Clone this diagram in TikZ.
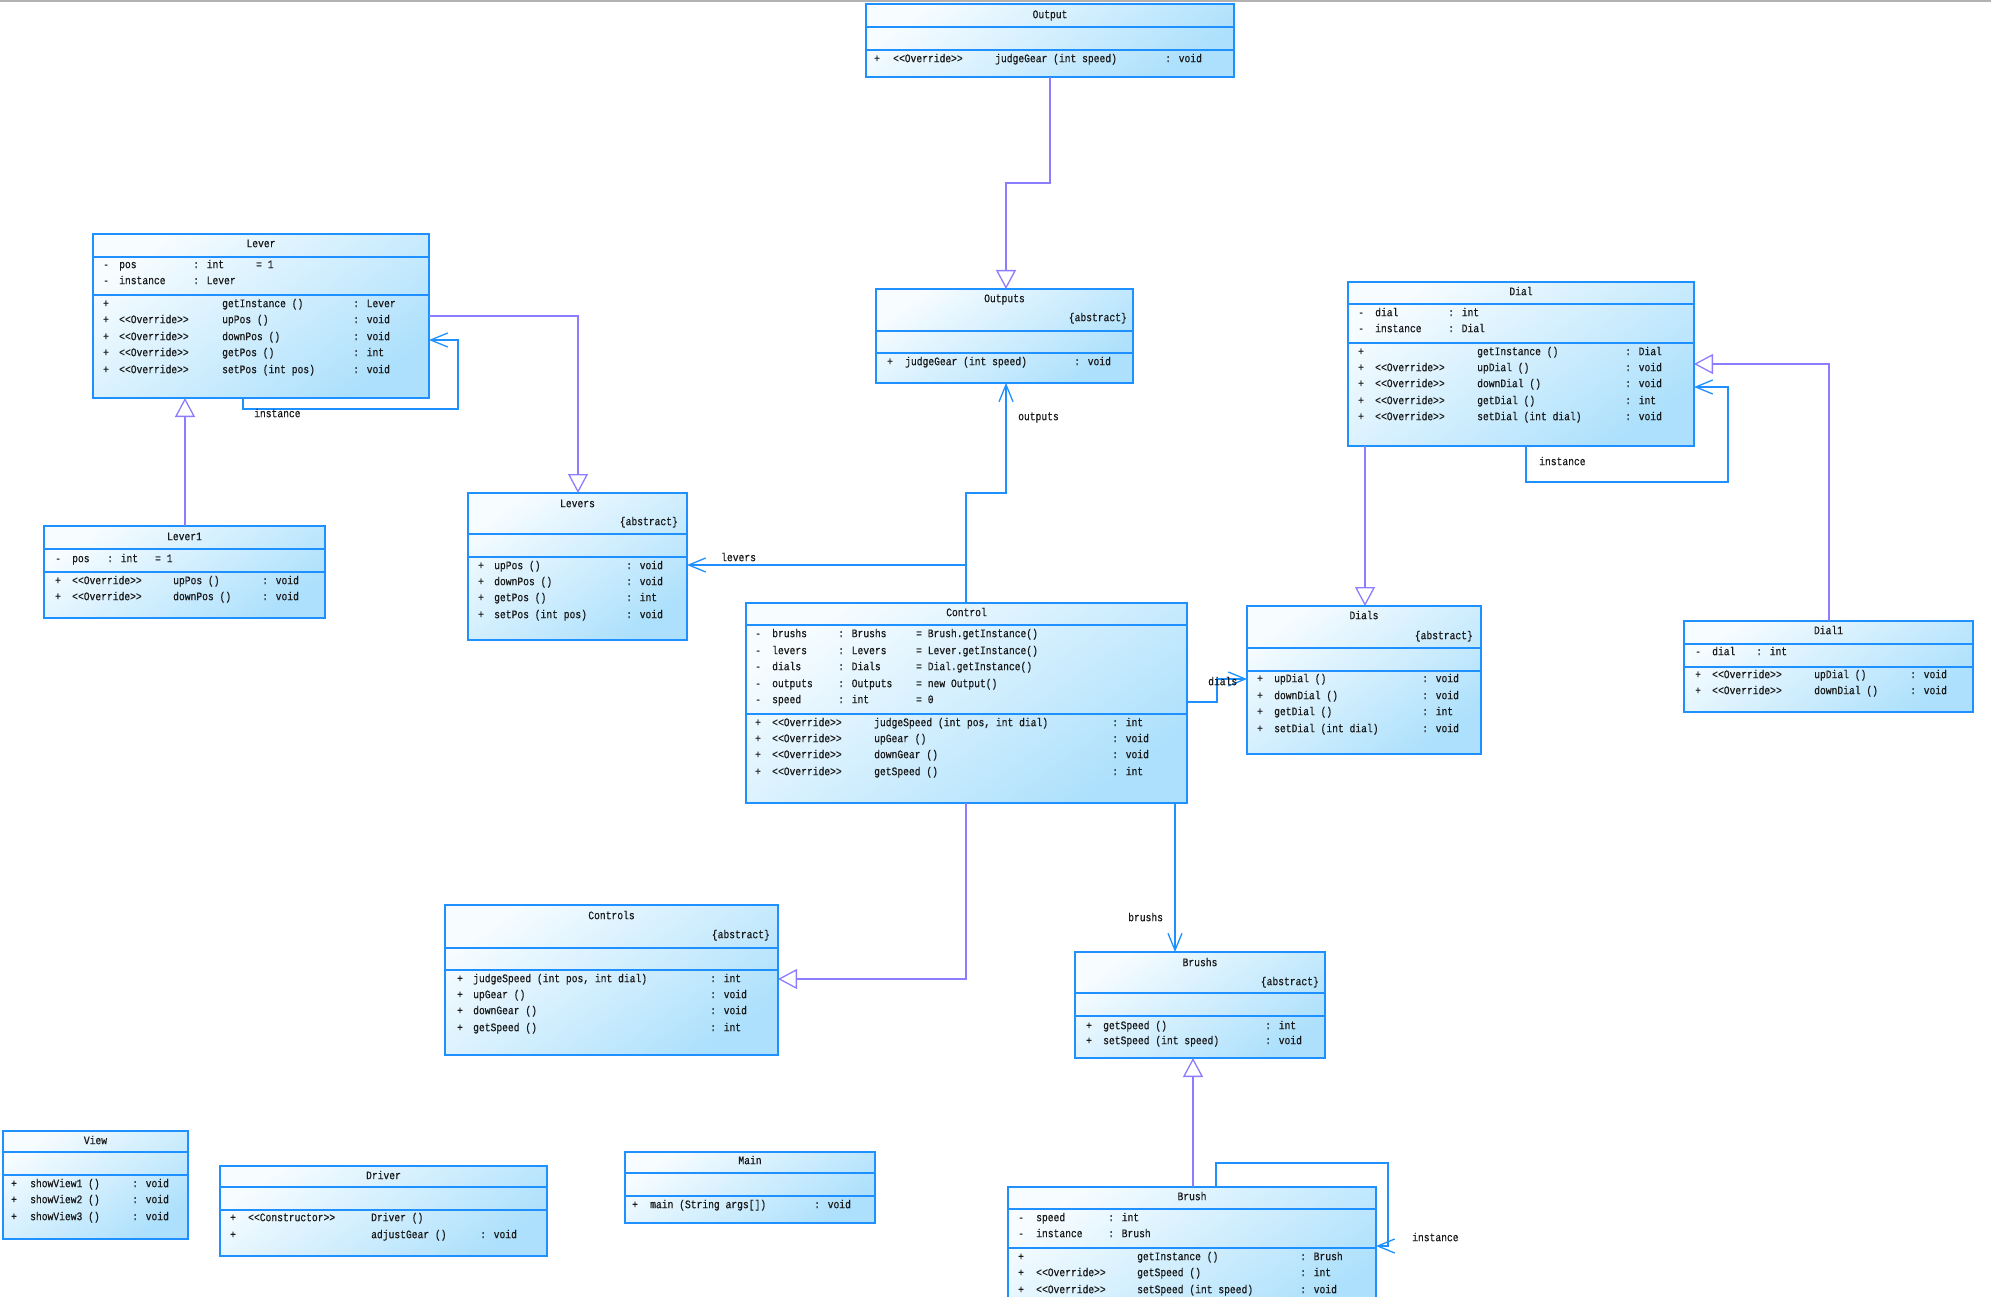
\documentclass[tikz,border=0pt]{standalone}
\usepackage{fontspec}
\newfontfamily\umlfont[FakeStretch=0.84,FakeBold=0.5]{Liberation Mono}
\usetikzlibrary{arrows.meta}
\definecolor{boxblue}{RGB}{30,144,255}
\definecolor{genpurple}{RGB}{140,125,255}
\definecolor{fillA}{RGB}{246,252,255}
\definecolor{fillB}{RGB}{172,224,252}
\newcounter{tn}
\newcommand\tx[3]{\stepcounter{tn}\edef\tnname{t\arabic{tn}}\node[txt,anchor=mid west] (\tnname) at (#1,#2) {#3};}
\newcommand\ttl[3]{\stepcounter{tn}\edef\tnname{t\arabic{tn}}\node[txt,anchor=mid] (\tnname) at (#1,#2) {#3};}
\newcommand\txr[3]{\stepcounter{tn}\edef\tnname{t\arabic{tn}}\node[txt,anchor=mid east] (\tnname) at (#1,#2) {#3};}
\newcommand\ubox[7]{%
  \node[umlbox,anchor=north west,minimum width={#4-#2},minimum height={#5-#3}] (#1) at (#2,#3) {};
  \draw[divline] (#2,#6) -- (#4,#6);
  \draw[divline] (#2,#7) -- (#4,#7);}
\newcommand\OV{<\kern0pt<Override>\kern0pt>}
\newcommand\CS{<\kern0pt<Constructor>\kern0pt>}
\newcommand\ABS{\{abstract\}}
\tikzset{
  umlbox/.style={draw=boxblue,line width=1.5pt,top color=fillA,bottom color=fillB,shading angle=35,inner sep=0pt,outer sep=0pt},
  divline/.style={draw=boxblue,line width=1.5pt},
  txt/.style={font=\umlfont\fontsize{11.5}{13}\selectfont,inner sep=0pt,text=black!90},
  gen/.style={draw=genpurple,line width=1.3pt,-{Triangle[open,length=19pt,width=20pt,line width=1.3pt]}},
  assoc/.style={draw=boxblue,line width=1.3pt,-{Straight Barb[length=17pt,width=14pt,line width=1.3pt]}},
}
\begin{document}
\begin{tikzpicture}[x=1pt,y=-1pt]
\clip (0,0) rectangle (1991,1297);
\fill[white] (0,0) rectangle (1991,1297);
\fill[black!30] (0,0) rectangle (1991,2);

% ---------- Output
\ubox{output}{866}{4}{1234}{77}{27}{50}
\ttl{1050}{16}{Output}
\tx{874}{60}{+}\tx{893}{60}{\OV}\tx{995}{60}{judgeGear (int speed)}\tx{1165}{60}{: void}

% ---------- Lever
\ubox{lever}{93}{234}{429}{398}{257}{295}
\ttl{261}{245}{Lever}
\tx{103}{266}{-}\tx{119}{266}{pos}\tx{193}{266}{: int}\tx{256}{266}{= 1}
\tx{103}{282}{-}\tx{119}{282}{instance}\tx{193}{282}{: Lever}
\tx{103}{305}{+}\tx{222}{305}{getInstance ()}\tx{353}{305}{: Lever}
\tx{103}{321}{+}\tx{119}{321}{\OV}\tx{222}{321}{upPos ()}\tx{353}{321}{: void}
\tx{103}{338}{+}\tx{119}{338}{\OV}\tx{222}{338}{downPos ()}\tx{353}{338}{: void}
\tx{103}{354}{+}\tx{119}{354}{\OV}\tx{222}{354}{getPos ()}\tx{353}{354}{: int}
\tx{103}{371}{+}\tx{119}{371}{\OV}\tx{222}{371}{setPos (int pos)}\tx{353}{371}{: void}

% ---------- Lever1
\ubox{lever1}{44}{526}{325}{618}{549}{572}
\ttl{184.5}{538}{Lever1}
\tx{55}{560}{-}\tx{72}{560}{pos}\tx{107}{560}{: int}\tx{155}{560}{= 1}
\tx{55}{582}{+}\tx{72}{582}{\OV}\tx{173}{582}{upPos ()}\tx{262}{582}{: void}
\tx{55}{598}{+}\tx{72}{598}{\OV}\tx{173}{598}{downPos ()}\tx{262}{598}{: void}

% ---------- Levers
\ubox{levers}{468}{493}{687}{640}{534}{557}
\ttl{577.5}{505}{Levers}
\txr{678}{523}{\ABS}
\tx{478}{567}{+}\tx{494}{567}{upPos ()}\tx{626}{567}{: void}
\tx{478}{583}{+}\tx{494}{583}{downPos ()}\tx{626}{583}{: void}
\tx{478}{599}{+}\tx{494}{599}{getPos ()}\tx{626}{599}{: int}
\tx{478}{616}{+}\tx{494}{616}{setPos (int pos)}\tx{626}{616}{: void}

% ---------- Outputs
\ubox{outputs}{876}{289}{1133}{383}{331}{353}
\ttl{1004.5}{300}{Outputs}
\txr{1127}{319}{\ABS}
\tx{887}{363}{+}\tx{905}{363}{judgeGear (int speed)}\tx{1074}{363}{: void}

% ---------- Control
\ubox{control}{746}{603}{1187}{803}{625}{714}
\ttl{966.5}{614}{Control}
\tx{755}{635}{-}\tx{772}{635}{brushs}\tx{838}{635}{: Brushs}\tx{916}{635}{= Brush.getInstance()}
\tx{755}{652}{-}\tx{772}{652}{levers}\tx{838}{652}{: Levers}\tx{916}{652}{= Lever.getInstance()}
\tx{755}{668}{-}\tx{772}{668}{dials}\tx{838}{668}{: Dials}\tx{916}{668}{= Dial.getInstance()}
\tx{755}{685}{-}\tx{772}{685}{outputs}\tx{838}{685}{: Outputs}\tx{916}{685}{= new Output()}
\tx{755}{701}{-}\tx{772}{701}{speed}\tx{838}{701}{: int}\tx{916}{701}{= 0}
\tx{755}{724}{+}\tx{772}{724}{\OV}\tx{874}{724}{judgeSpeed (int pos, int dial)}\tx{1112}{724}{: int}
\tx{755}{740}{+}\tx{772}{740}{\OV}\tx{874}{740}{upGear ()}\tx{1112}{740}{: void}
\tx{755}{756}{+}\tx{772}{756}{\OV}\tx{874}{756}{downGear ()}\tx{1112}{756}{: void}
\tx{755}{773}{+}\tx{772}{773}{\OV}\tx{874}{773}{getSpeed ()}\tx{1112}{773}{: int}

% ---------- Dial
\ubox{dial}{1348}{282}{1694}{446}{304}{343}
\ttl{1521}{293}{Dial}
\tx{1358}{314}{-}\tx{1375}{314}{dial}\tx{1448}{314}{: int}
\tx{1358}{330}{-}\tx{1375}{330}{instance}\tx{1448}{330}{: Dial}
\tx{1358}{353}{+}\tx{1477}{353}{getInstance ()}\tx{1625}{353}{: Dial}
\tx{1358}{369}{+}\tx{1375}{369}{\OV}\tx{1477}{369}{upDial ()}\tx{1625}{369}{: void}
\tx{1358}{385}{+}\tx{1375}{385}{\OV}\tx{1477}{385}{downDial ()}\tx{1625}{385}{: void}
\tx{1358}{402}{+}\tx{1375}{402}{\OV}\tx{1477}{402}{getDial ()}\tx{1625}{402}{: int}
\tx{1358}{418}{+}\tx{1375}{418}{\OV}\tx{1477}{418}{setDial (int dial)}\tx{1625}{418}{: void}

% ---------- Dials
\ubox{dials}{1247}{606}{1481}{754}{648}{671}
\ttl{1364}{617}{Dials}
\txr{1473}{637}{\ABS}
\tx{1257}{680}{+}\tx{1274}{680}{upDial ()}\tx{1422}{680}{: void}
\tx{1257}{697}{+}\tx{1274}{697}{downDial ()}\tx{1422}{697}{: void}
\tx{1257}{713}{+}\tx{1274}{713}{getDial ()}\tx{1422}{713}{: int}
\tx{1257}{730}{+}\tx{1274}{730}{setDial (int dial)}\tx{1422}{730}{: void}

% ---------- Dial1
\ubox{dial1}{1684}{621}{1973}{712}{644}{667}
\ttl{1828.5}{632}{Dial1}
\tx{1695}{653}{-}\tx{1712}{653}{dial}\tx{1756}{653}{: int}
\tx{1695}{676}{+}\tx{1712}{676}{\OV}\tx{1814}{676}{upDial ()}\tx{1910}{676}{: void}
\tx{1695}{692}{+}\tx{1712}{692}{\OV}\tx{1814}{692}{downDial ()}\tx{1910}{692}{: void}

% ---------- Controls
\ubox{controls}{445}{905}{778}{1055}{948}{970}
\ttl{611.5}{917}{Controls}
\txr{770}{936}{\ABS}
\tx{457}{980}{+}\tx{473}{980}{judgeSpeed (int pos, int dial)}\tx{710}{980}{: int}
\tx{457}{996}{+}\tx{473}{996}{upGear ()}\tx{710}{996}{: void}
\tx{457}{1012}{+}\tx{473}{1012}{downGear ()}\tx{710}{1012}{: void}
\tx{457}{1029}{+}\tx{473}{1029}{getSpeed ()}\tx{710}{1029}{: int}

% ---------- Brushs
\ubox{brushs}{1075}{952}{1325}{1058}{993}{1016}
\ttl{1200}{964}{Brushs}
\txr{1319}{983}{\ABS}
\tx{1086}{1027}{+}\tx{1103}{1027}{getSpeed ()}\tx{1265}{1027}{: int}
\tx{1086}{1042}{+}\tx{1103}{1042}{setSpeed (int speed)}\tx{1265}{1042}{: void}

% ---------- Brush
\ubox{brush}{1008}{1187}{1376}{1320}{1209}{1248}
\ttl{1192}{1198}{Brush}
\tx{1018}{1219}{-}\tx{1036}{1219}{speed}\tx{1108}{1219}{: int}
\tx{1018}{1235}{-}\tx{1036}{1235}{instance}\tx{1108}{1235}{: Brush}
\tx{1018}{1258}{+}\tx{1137}{1258}{getInstance ()}\tx{1300}{1258}{: Brush}
\tx{1018}{1274}{+}\tx{1036}{1274}{\OV}\tx{1137}{1274}{getSpeed ()}\tx{1300}{1274}{: int}
\tx{1018}{1291}{+}\tx{1036}{1291}{\OV}\tx{1137}{1291}{setSpeed (int speed)}\tx{1300}{1291}{: void}

% ---------- View
\ubox{view}{3}{1131}{188}{1239}{1152}{1175}
\ttl{95.5}{1142}{View}
\tx{11}{1185}{+}\tx{30}{1185}{showView1 ()}\tx{132}{1185}{: void}
\tx{11}{1201}{+}\tx{30}{1201}{showView2 ()}\tx{132}{1201}{: void}
\tx{11}{1218}{+}\tx{30}{1218}{showView3 ()}\tx{132}{1218}{: void}

% ---------- Driver
\ubox{driver}{220}{1166}{547}{1256}{1187}{1210}
\ttl{383.5}{1177}{Driver}
\tx{230}{1219}{+}\tx{248}{1219}{\CS}\tx{371}{1219}{Driver ()}
\tx{230}{1236}{+}\tx{371}{1236}{adjustGear ()}\tx{480}{1236}{: void}

% ---------- Main
\ubox{main}{625}{1152}{875}{1223}{1173}{1196}
\ttl{750}{1162}{Main}
\tx{632}{1206}{+}\tx{650}{1206}{main (String args[])}\tx{814}{1206}{: void}

% ---------- connectors: generalization / realization
\draw[gen] (output.south -| 1050,0) -- (1050,183) -- (1006,183) -- (outputs.north -| 1006,0);
\draw[gen] (lever.east |- 0,316) -- (578,316) -- (levers.north -| 578,0);
\draw[gen] (lever1.north -| 185,0) -- (lever.south -| 185,0);
\draw[gen] (control.south -| 966,0) -- (966,979) -- (controls.east |- 0,979);
\draw[gen] (dial.south -| 1365,0) -- (dials.north -| 1365,0);
\draw[gen] (dial1.north -| 1829,0) -- (1829,364) -- (dial.east |- 0,364);
\draw[gen] (brush.north -| 1193,0) -- (brushs.south -| 1193,0);

% ---------- connectors: associations
\draw[assoc] (lever.south -| 243,0) -- (243,409) -- (458,409) -- (458,340) -- (lever.east |- 0,340);
\draw[assoc] (control.north -| 966,0) -- (966,565) -- (levers.east |- 0,565);
\draw[assoc] (control.north -| 966,0) -- (966,493) -- (1006,493) -- (outputs.south -| 1006,0);
\draw[assoc] (control.east |- 0,702) -- (1217,702) -- (1217,679) -- (dials.west |- 0,679);
\draw[assoc] (control.south -| 1175,0) -- (brushs.north -| 1175,0);
\draw[assoc] (dial.south -| 1526,0) -- (1526,482) -- (1728,482) -- (1728,387) -- (dial.east |- 0,387);
\draw[assoc] (brush.north -| 1216,0) -- (1216,1163) -- (1388,1163) -- (1388,1246) -- (brush.east |- 0,1246);

% ---------- connector labels
\node[txt,anchor=mid west] (lblleverinst) at (254,415) {instance};
\node[txt,anchor=mid west] (lbllevers) at (721,559) {levers};
\node[txt,anchor=mid west] (lbloutputs) at (1018,418) {outputs};
\node[txt,anchor=mid west] (lbldials) at (1208,683) {dials};
\node[txt,anchor=mid west] (lblbrushs) at (1128,919) {brushs};
\node[txt,anchor=mid west] (lbldialinst) at (1539,463) {instance};
\node[txt,anchor=mid west] (lblbrushinst) at (1412,1239) {instance};
\end{tikzpicture}
\end{document}
